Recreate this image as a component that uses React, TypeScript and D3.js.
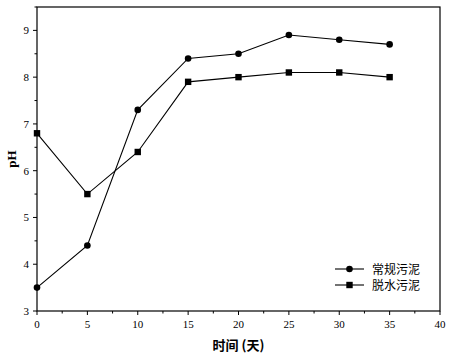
import React from "react";
import * as d3 from "d3";

const days = [0, 5, 10, 15, 20, 25, 30, 35];
const conventional = [3.5, 4.4, 7.3, 8.4, 8.5, 8.9, 8.8, 8.7];
const dewatered = [6.8, 5.5, 6.4, 7.9, 8.0, 8.1, 8.1, 8.0];
const xTicks = [0, 5, 10, 15, 20, 25, 30, 35, 40];
const yTicks = [3, 4, 5, 6, 7, 8, 9];
const seriesNames = ["常规污泥", "脱水污泥"];

export default function App() {
  const W = 450, H = 359;
  const left = 37, right = 440, top = 7, bottom = 311;
  const x = d3.scaleLinear().domain([0, 40]).range([left, right]);
  const y = d3.scaleLinear().domain([3, 9.5]).range([bottom, top]);
  const line = d3.line<number>().x((_, i) => x(days[i])).y((d) => y(d));
  const xMinor = d3.range(0, 40.01, 2.5).filter((v) => v % 5 !== 0);
  const yMinor = d3.range(3, 9.51, 0.5).filter((v) => v % 1 !== 0);
  const serif = "'Liberation Serif', 'Times New Roman', serif";
  const cjk = "'Noto Sans CJK SC', sans-serif";
  return (
    <svg width={W} height={H} style={{ position: "absolute", left: 0, top: 0, background: "#fff" }}>
      <rect x={left} y={top} width={right - left} height={bottom - top} fill="none" stroke="#000" strokeWidth={1.2} />
      {xTicks.map((t) => (
        <g key={"xt" + t}>
          <line x1={x(t)} x2={x(t)} y1={bottom} y2={bottom + 4} stroke="#000" />
          <text x={x(t)} y={bottom + 17} textAnchor="middle" fontFamily={serif} fontSize={11}>{t}</text>
        </g>
      ))}
      {xMinor.map((t) => (
        <line key={"xm" + t} x1={x(t)} x2={x(t)} y1={bottom} y2={bottom + 2.5} stroke="#000" />
      ))}
      {yTicks.map((t) => (
        <g key={"yt" + t}>
          <line x1={left - 4} x2={left} y1={y(t)} y2={y(t)} stroke="#000" />
          <text x={left - 8} y={y(t) + 4} textAnchor="end" fontFamily={serif} fontSize={11}>{t}</text>
        </g>
      ))}
      {yMinor.map((t) => (
        <line key={"ym" + t} x1={left - 2.5} x2={left} y1={y(t)} y2={y(t)} stroke="#000" />
      ))}
      <path d={line(conventional) || ""} fill="none" stroke="#000" strokeWidth={1.1} />
      <path d={line(dewatered) || ""} fill="none" stroke="#000" strokeWidth={1.1} />
      {conventional.map((v, i) => (
        <circle key={"c" + i} cx={x(days[i])} cy={y(v)} r={3.3} fill="#000" />
      ))}
      {dewatered.map((v, i) => (
        <rect key={"s" + i} x={x(days[i]) - 3.2} y={y(v) - 3.2} width={6.4} height={6.4} fill="#000" />
      ))}
      <g>
        <line x1={335} x2={364} y1={269} y2={269} stroke="#000" strokeWidth={1.1} />
        <circle cx={349.5} cy={269} r={3.3} fill="#000" />
        <text x={372} y={273.5} fontFamily={cjk} fontSize={12}>{seriesNames[0]}</text>
        <line x1={335} x2={364} y1={285} y2={285} stroke="#000" strokeWidth={1.1} />
        <rect x={346.3} y={281.8} width={6.4} height={6.4} fill="#000" />
        <text x={372} y={289.5} fontFamily={cjk} fontSize={12}>{seriesNames[1]}</text>
      </g>
      <text transform={`translate(16,${(top + bottom) / 2}) rotate(-90)`} textAnchor="middle" fontFamily={serif} fontWeight="bold" fontSize={13}>pH</text>
      <text x={(left + right) / 2} y={350} textAnchor="middle" fontFamily={cjk} fontWeight="bold" fontSize={13}>时间 (天)</text>
    </svg>
  );
}
